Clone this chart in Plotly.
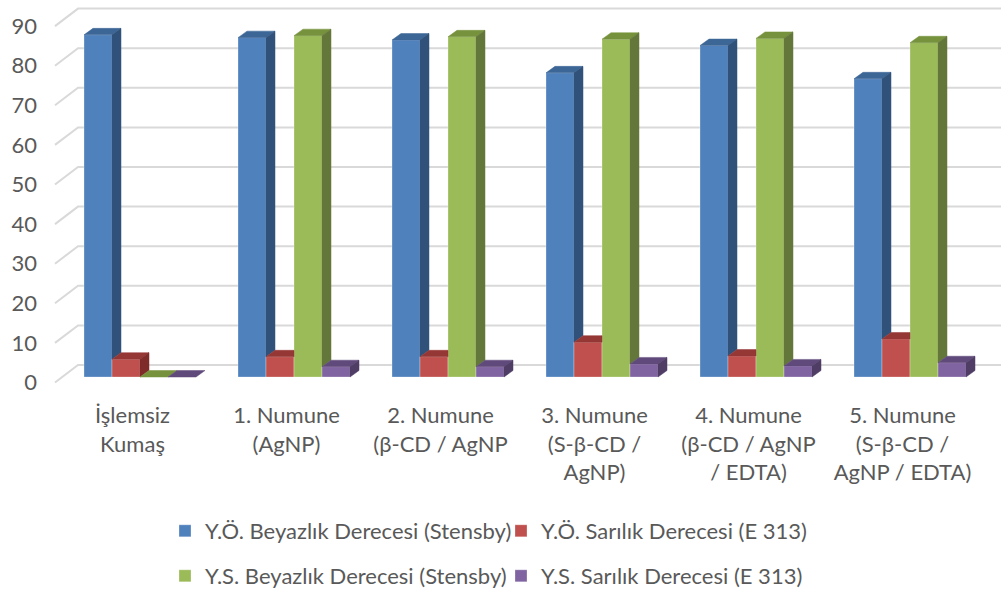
import plotly.graph_objects as go

# ---- data -----------------------------------------------------------------
categories = [
    "İşlemsiz<br>Kumaş",
    "1. Numune<br>(AgNP)",
    "2. Numune<br>(β-CD / AgNP",
    "3. Numune<br>(S-β-CD /<br>AgNP)",
    "4. Numune<br>(β-CD / AgNP<br>/ EDTA)",
    "5. Numune<br>(S-β-CD /<br>AgNP / EDTA)",
]
series_names = [
    "Y.Ö. Beyazlık Derecesi (Stensby)",
    "Y.Ö. Sarılık Derecesi (E 313)",
    "Y.S. Beyazlık Derecesi (Stensby)",
    "Y.S. Sarılık Derecesi (E 313)",
]
yo_beyazlik = [86.4, 85.7, 85.1, 76.8, 83.7, 75.3]
yo_sarilik = [4.5, 5.1, 5.1, 8.8, 5.3, 9.6]
ys_beyazlik = [0.0, 86.2, 85.9, 85.3, 85.5, 84.4]
ys_sarilik = [0.0, 2.6, 2.6, 3.3, 2.8, 3.6]
y_ticks = [0, 10, 20, 30, 40, 50, 60, 70, 80, 90]

# ---- styling ----------------------------------------------------------------
front_colors = ["#4F81BD", "#C0504D", "#9BBB59", "#8064A2"]
top_colors = ["#3C6696", "#953735", "#76923C", "#604A7B"]
side_colors = ["#30527A", "#7F2B29", "#64773A", "#4F3D66"]
TEXT = "#595959"
GRID = "#D9D9D9"
FONT = "Lato"
FS = 22

# ---- pixel geometry of the pseudo-3D box -------------------------------------
W, H = 1001, 592
PLOT_L, PLOT_B = 38, 397          # plot area: x from PLOT_L to W, y from 0 to PLOT_B
GROUP_PX, X0_PX = 154.0, 140.0    # px per category, px centre of first category
Y_PX, Y0_PX = 3.96, 377.0         # px per unit, px of value 0 on the bar front plane
BAR_DX_PX, BAR_DY_PX = 9.0, 6.5   # depth of each column
EDGE_X_PX, WALL_X_PX = 55.0, 78.0 # side wall front / back edges
EDGE_DY_PX, WALL_DY_PX = -5.5, 12.0

def px_x(px):
    return (px - X0_PX) / GROUP_PX

x_range = [px_x(PLOT_L), px_x(W)]
y_range = [(Y0_PX - PLOT_B) / Y_PX, Y0_PX / Y_PX]
dxu, dyu = BAR_DX_PX / GROUP_PX, BAR_DY_PX / Y_PX
edge_dy, wall_dy = EDGE_DY_PX / Y_PX, WALL_DY_PX / Y_PX

GROUP_W = 0.7273
bar_w = GROUP_W / 4

series = [yo_beyazlik, yo_sarilik, ys_beyazlik, ys_sarilik]
xs = list(range(len(categories)))

fig = go.Figure()

# front faces
for s, vals in enumerate(series):
    fig.add_trace(go.Bar(
        x=xs, y=vals, name=series_names[s],
        marker=dict(color=front_colors[s], line=dict(color="rgba(255,255,255,0.35)", width=0.8)),
        legend="legend" if s < 2 else "legend2",
    ))

# top and side faces, trimmed where the neighbouring column hides them
for s, vals in enumerate(series):
    top_x, top_y, side_x, side_y = [], [], [], []
    for i, v in enumerate(vals):
        l = i - GROUP_W / 2 + s * bar_w
        r = l + bar_w
        nxt = series[s + 1][i] if s < 3 else None
        if nxt is not None and nxt > v:
            top_x += [l, r, r, l + dxu, l, None]
            top_y += [v, v, v + dyu, v + dyu, v, None]
        else:
            top_x += [l, r, r + dxu, l + dxu, l, None]
            top_y += [v, v, v + dyu, v + dyu, v, None]
        lo = nxt if nxt is not None else 0.0
        if v > lo:
            side_x += [r, r, r + dxu, r + dxu, r, None]
            side_y += [lo, v, v + dyu, lo + dyu, lo, None]
    fig.add_trace(go.Scatter(x=top_x, y=top_y, mode="lines", fill="toself",
                             fillcolor=top_colors[s], line=dict(width=0.5, color=top_colors[s]),
                             hoverinfo="skip", showlegend=False))
    fig.add_trace(go.Scatter(x=side_x, y=side_y, mode="lines", fill="toself",
                             fillcolor=side_colors[s], line=dict(width=0.5, color=side_colors[s]),
                             hoverinfo="skip", showlegend=False))

# gridlines on the side and back walls
shapes = []
for k in y_ticks:
    path = (f"M {px_x(EDGE_X_PX)},{k + edge_dy} L {px_x(WALL_X_PX)},{k + wall_dy} "
            f"L {x_range[1]},{k + wall_dy}")
    shapes.append(dict(type="path", path=path, xref="x", yref="y", layer="below",
                       line=dict(color=GRID, width=2)))

legend_x = (165 - PLOT_L) / (W - PLOT_L)
fig.update_layout(
    width=W, height=H,
    margin=dict(l=PLOT_L, r=0, t=0, b=H - PLOT_B, autoexpand=False),
    paper_bgcolor="white", plot_bgcolor="white",
    barmode="group", bargap=1 - GROUP_W, bargroupgap=0,
    shapes=shapes,
    font=dict(family=FONT, size=FS, color=TEXT),
    xaxis=dict(range=x_range, showgrid=False, zeroline=False, showline=False,
               tickmode="array", tickvals=[i - 7.5 / GROUP_PX for i in xs],
               ticktext=categories, ticks="", ticklabelstandoff=3, automargin=False,
               tickfont=dict(size=FS, color=TEXT)),
    yaxis=dict(range=y_range, showgrid=False, zeroline=False, showline=False,
               tickmode="array", tickvals=[k + edge_dy for k in y_ticks], automargin=False,
               ticktext=[str(k) for k in y_ticks], ticks="", tickfont=dict(size=FS, color=TEXT)),
    legend=dict(orientation="h", x=legend_x, xanchor="left",
                y=(PLOT_B - 531) / PLOT_B, yanchor="middle",
                entrywidth=291, entrywidthmode="pixels",
                font=dict(size=FS, color=TEXT), bgcolor="rgba(0,0,0,0)"),
    legend2=dict(orientation="h", x=legend_x, xanchor="left",
                 y=(PLOT_B - 576) / PLOT_B, yanchor="middle",
                 entrywidth=291, entrywidthmode="pixels",
                 font=dict(size=FS, color=TEXT), bgcolor="rgba(0,0,0,0)"),
    showlegend=True,
)

fig.write_html("out.html")
